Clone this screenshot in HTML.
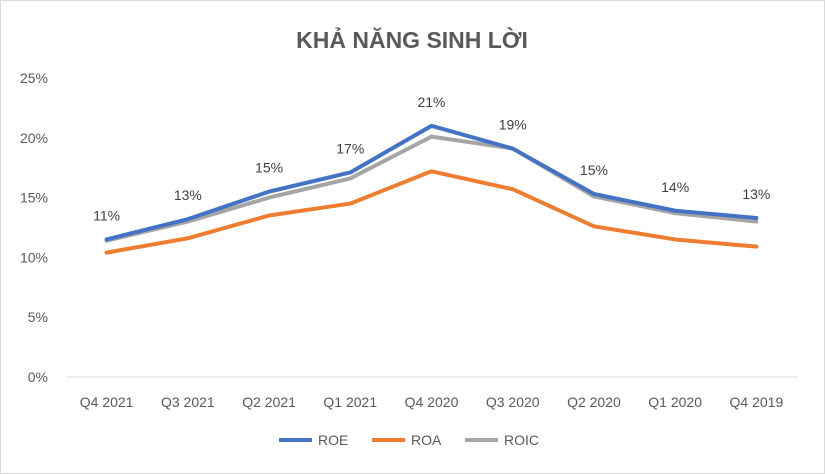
<!DOCTYPE html>
<html><head><meta charset="utf-8"><style>
body{margin:0;background:#fff;}
svg{display:block;font-family:"Liberation Sans","DejaVu Sans",sans-serif;}
</style></head><body>
<svg id="chart" width="825" height="474" viewBox="0 0 825 474">
<rect x="0.5" y="0.5" width="824" height="473" fill="#fff" stroke="#d9d9d9"/>
<text x="412" y="48" text-anchor="middle" font-size="23" font-weight="bold" fill="#595959">KHẢ NĂNG SINH LỜI</text>
<g id="yaxis"></g><g id="xaxis"></g><g id="series"></g><g id="labels"></g>
<g>
<line x1="279" y1="440" x2="312" y2="440" stroke="#4472c4" stroke-width="4"/>
<text x="318" y="445" font-size="14" fill="#595959">ROE</text>
<line x1="372" y1="440" x2="405" y2="440" stroke="#ed7d31" stroke-width="4"/>
<text x="411" y="445" font-size="14" fill="#595959">ROA</text>
<line x1="465" y1="440" x2="498" y2="440" stroke="#a5a5a5" stroke-width="4"/>
<text x="504" y="445" font-size="14" fill="#595959">ROIC</text>
</g>
</svg>
<script>
const categories=["Q4 2021","Q3 2021","Q2 2021","Q1 2021","Q4 2020","Q3 2020","Q2 2020","Q1 2020","Q4 2019"];
const roe=[11.5,13.2,15.5,17.1,21.0,19.1,15.3,13.9,13.3];
const roa=[10.4,11.6,13.5,14.5,17.2,15.7,12.6,11.5,10.9];
const roic=[11.4,13.0,15.0,16.6,20.1,19.1,15.1,13.7,13.0];
const roeLabels=["11%","13%","15%","17%","21%","19%","15%","14%","13%"];
const yTicks=[0,5,10,15,20,25];
const NS="http://www.w3.org/2000/svg";
const x0=66,x1=797,yB=377,yT=78;
function xs(i){return x0+(x1-x0)/categories.length*(i+0.5);}
function ys(v){return yB-(yB-yT)*v/25;}
function mk(t,a,p){const e=document.createElementNS(NS,t);for(const k in a)e.setAttribute(k,a[k]);p.appendChild(e);return e;}
const ya=document.getElementById('yaxis');
yTicks.forEach(v=>{const t=mk('text',{x:48,y:ys(v)+5,'text-anchor':'end','font-size':14,fill:'#595959'},ya);t.textContent=v+'%';

});
const xa=document.getElementById('xaxis');
const ax=mk('line',{x1:x0,x2:x1,y1:yB,y2:yB,stroke:'#d9d9d9','stroke-width':1},xa);


categories.forEach((c,i)=>{const t=mk('text',{x:xs(i),y:407,'text-anchor':'middle','font-size':14,fill:'#595959'},xa);t.textContent=c;

});
const sg=document.getElementById('series');
[[roa,'#ed7d31','roa-line'],[roic,'#a5a5a5','roic-line'],[roe,'#4472c4','roe-line']].forEach(([d,c,n])=>{
const p=mk('polyline',{points:d.map((v,i)=>xs(i)+','+ys(v)).join(' '),fill:'none',stroke:c,'stroke-width':4,'stroke-linejoin':'round','stroke-linecap':'round'},sg);

});
const lg=document.getElementById('labels');
roe.forEach((v,i)=>{const t=mk('text',{x:xs(i),y:ys(v)-19,'text-anchor':'middle','font-size':14,fill:'#404040'},lg);t.textContent=roeLabels[i];

});
</script>
</body></html>
